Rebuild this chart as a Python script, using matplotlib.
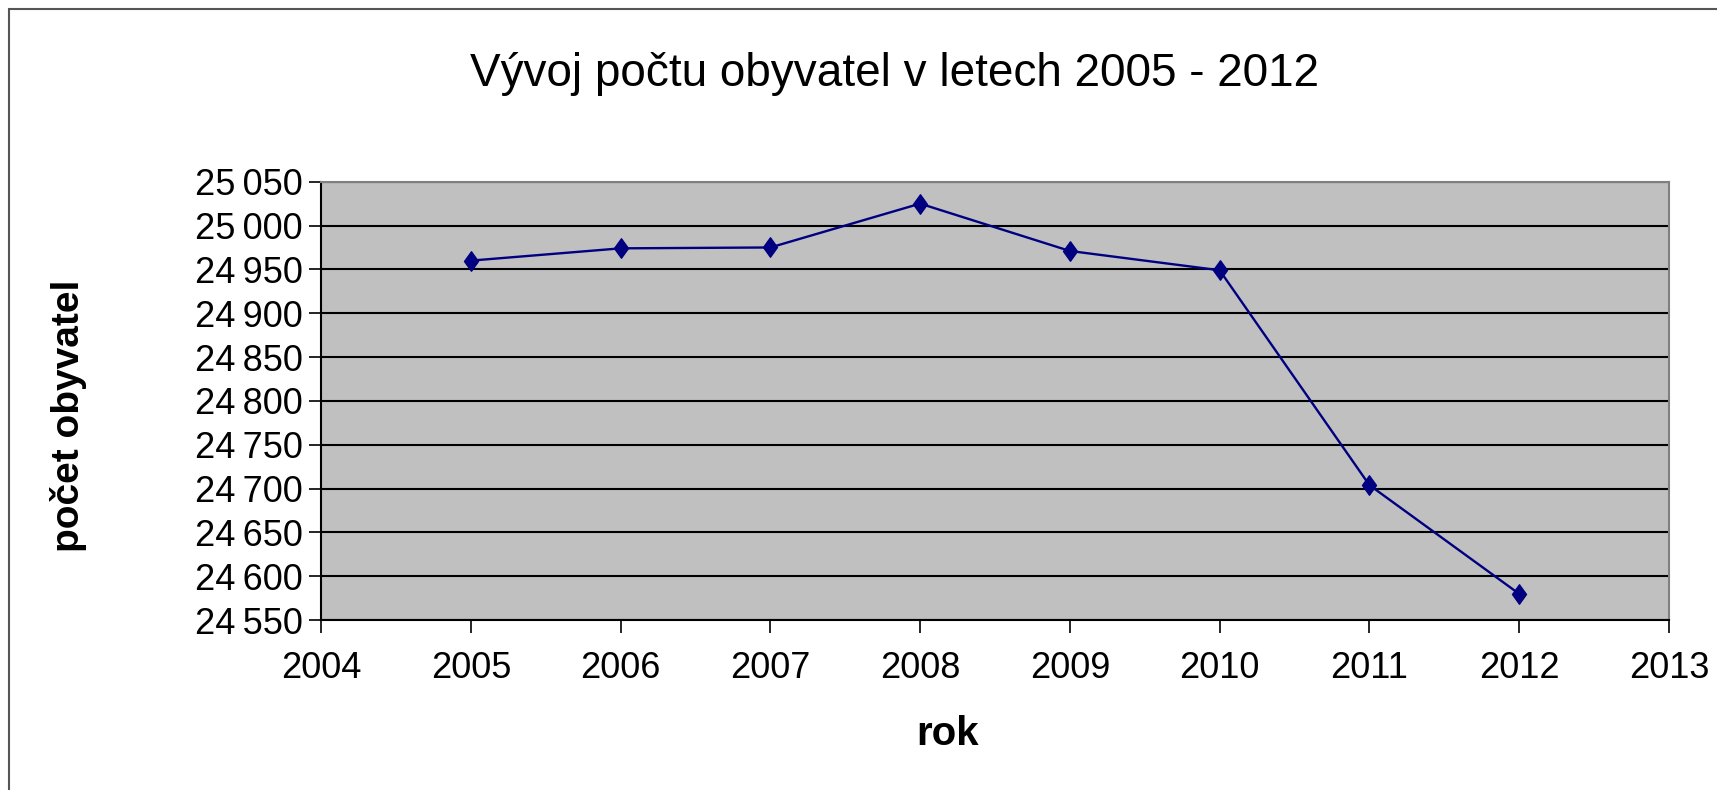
import matplotlib.pyplot as plt
from matplotlib.ticker import FuncFormatter, MultipleLocator
from matplotlib.path import Path
from matplotlib.patches import Rectangle

years = [2005, 2006, 2007, 2008, 2009, 2010, 2011, 2012]
population = [24960, 24974, 24975, 25025, 24971, 24949, 24704, 24580]

plt.rcParams['font.family'] = ['Liberation Sans', 'DejaVu Sans']

fig = plt.figure(figsize=(17.17, 7.9), dpi=100)
ax = fig.add_axes([0.187, 0.215, 0.785, 0.555])

# Excel-like diamond marker
diamond = Path([(0, 1), (0.72, 0), (0, -1), (-0.72, 0), (0, 1)],
               [Path.MOVETO, Path.LINETO, Path.LINETO, Path.LINETO, Path.CLOSEPOLY])

ax.set_facecolor('#c0c0c0')
ax.plot(years, population, color='#000080', linewidth=1.7,
        marker=diamond, markersize=14, markerfacecolor='#000080',
        markeredgecolor='#000080', zorder=3)

ax.set_xlim(2004, 2013)
ax.set_ylim(24550, 25050)
ax.xaxis.set_major_locator(MultipleLocator(1))
ax.yaxis.set_major_locator(MultipleLocator(50))
ax.yaxis.set_major_formatter(FuncFormatter(
    lambda v, p: f"{int(v):,}".replace(",", "\u2009")))

ax.grid(axis='y', color='black', linewidth=1.5)
ax.set_axisbelow(True)
ax.spines['top'].set_color('#808080')
ax.spines['right'].set_color('#808080')
ax.spines['left'].set_color('black')
ax.spines['bottom'].set_color('black')
for s in ax.spines.values():
    s.set_linewidth(1.5)

ax.tick_params(axis='both', direction='out', length=9, width=1.2,
               labelsize=26, color='black')
ax.tick_params(axis='x', pad=13)
ax.tick_params(axis='y', pad=4)

fig.text(0.521, 0.906, "Vývoj počtu obyvatel v letech 2005 - 2012",
         ha='center', va='center', fontsize=33)
fig.text(0.040, 0.474, "počet obyvatel", rotation=90,
         ha='center', va='center', fontsize=28, fontweight='bold')
fig.text(0.552, 0.071, "rok", ha='center', va='center',
         fontsize=29, fontweight='bold')

# chart area border
fig.patches.append(Rectangle((9 / 1717, -0.05), 1.2, 1 - 9 / 790 + 0.05,
                             transform=fig.transFigure, fill=False,
                             edgecolor='#555555', linewidth=1.5))

fig.savefig("out.png", dpi=100)
